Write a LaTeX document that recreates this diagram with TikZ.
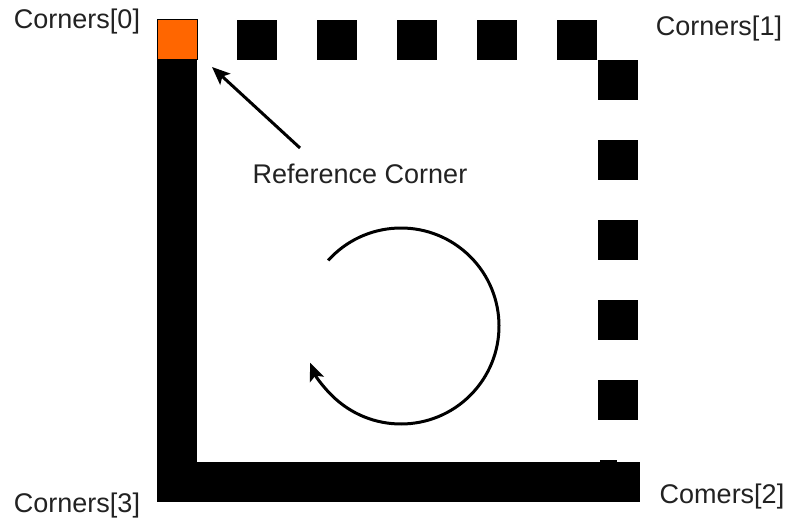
\documentclass[tikz,border=0pt]{standalone}
\usepackage{fontspec}
\setmainfont{Liberation Sans}
\usetikzlibrary{arrows.meta}
\definecolor{refor}{HTML}{FF6600}
\definecolor{txt}{HTML}{222222}
\begin{document}
\begin{tikzpicture}[x=1pt,y=1pt,
  sq/.style={fill=black, draw=none},
  lbl/.style={font=\fontsize{27}{31}\selectfont, text=txt, inner sep=0pt},
  arr/.style={line width=3pt, -{Stealth[length=18pt,width=15pt,inset=4pt]}}]
\useasboundingbox (0,0) rectangle (790,523);
\fill[white] (0,0) rectangle (790,523);
% orange reference corner
\node[fill=refor, draw=black, line width=0.6pt, minimum size=40pt, inner sep=0pt, anchor=south west] (c0) at (157,463) {};
% top row squares
\foreach \i/\x in {1/237,2/317,3/397,4/477,5/557}
  \node[sq, minimum size=40pt, inner sep=0pt, anchor=south west] (t\i) at (\x,463) {};
% right column squares
\foreach \i/\y in {1/423,2/343,3/263,4/183,5/103}
  \node[sq, minimum size=40pt, inner sep=0pt, anchor=south west] (r\i) at (598,\y) {};
% left bar and bottom bar
\fill[black] (157,21) rectangle (197,463);
\fill[black] (157,21) rectangle (640,61);
\fill[black] (600,61) rectangle (617,63);
% labels
\node[lbl] (l0) at (77,501) {Corners[0]};
\node[lbl] (l1) at (719,494) {Corners[1]};
\node[lbl] (l2) at (722,26) {Comers[2]};
\node[lbl] (l3) at (77,17) {Corners[3]};
\node[lbl] (ref) at (360,349) {Reference Corner};
% reference arrow
\coordinate (tail) at (300,375);
\coordinate (tip) at (212,456);
\draw[arr] (tail) -- (tip);
% rotation arrow
\coordinate (cc) at (401,197);
\draw[arr] ([shift={(138:98)}]cc) arc[start angle=138, end angle=-158, radius=98];
\end{tikzpicture}
\end{document}
